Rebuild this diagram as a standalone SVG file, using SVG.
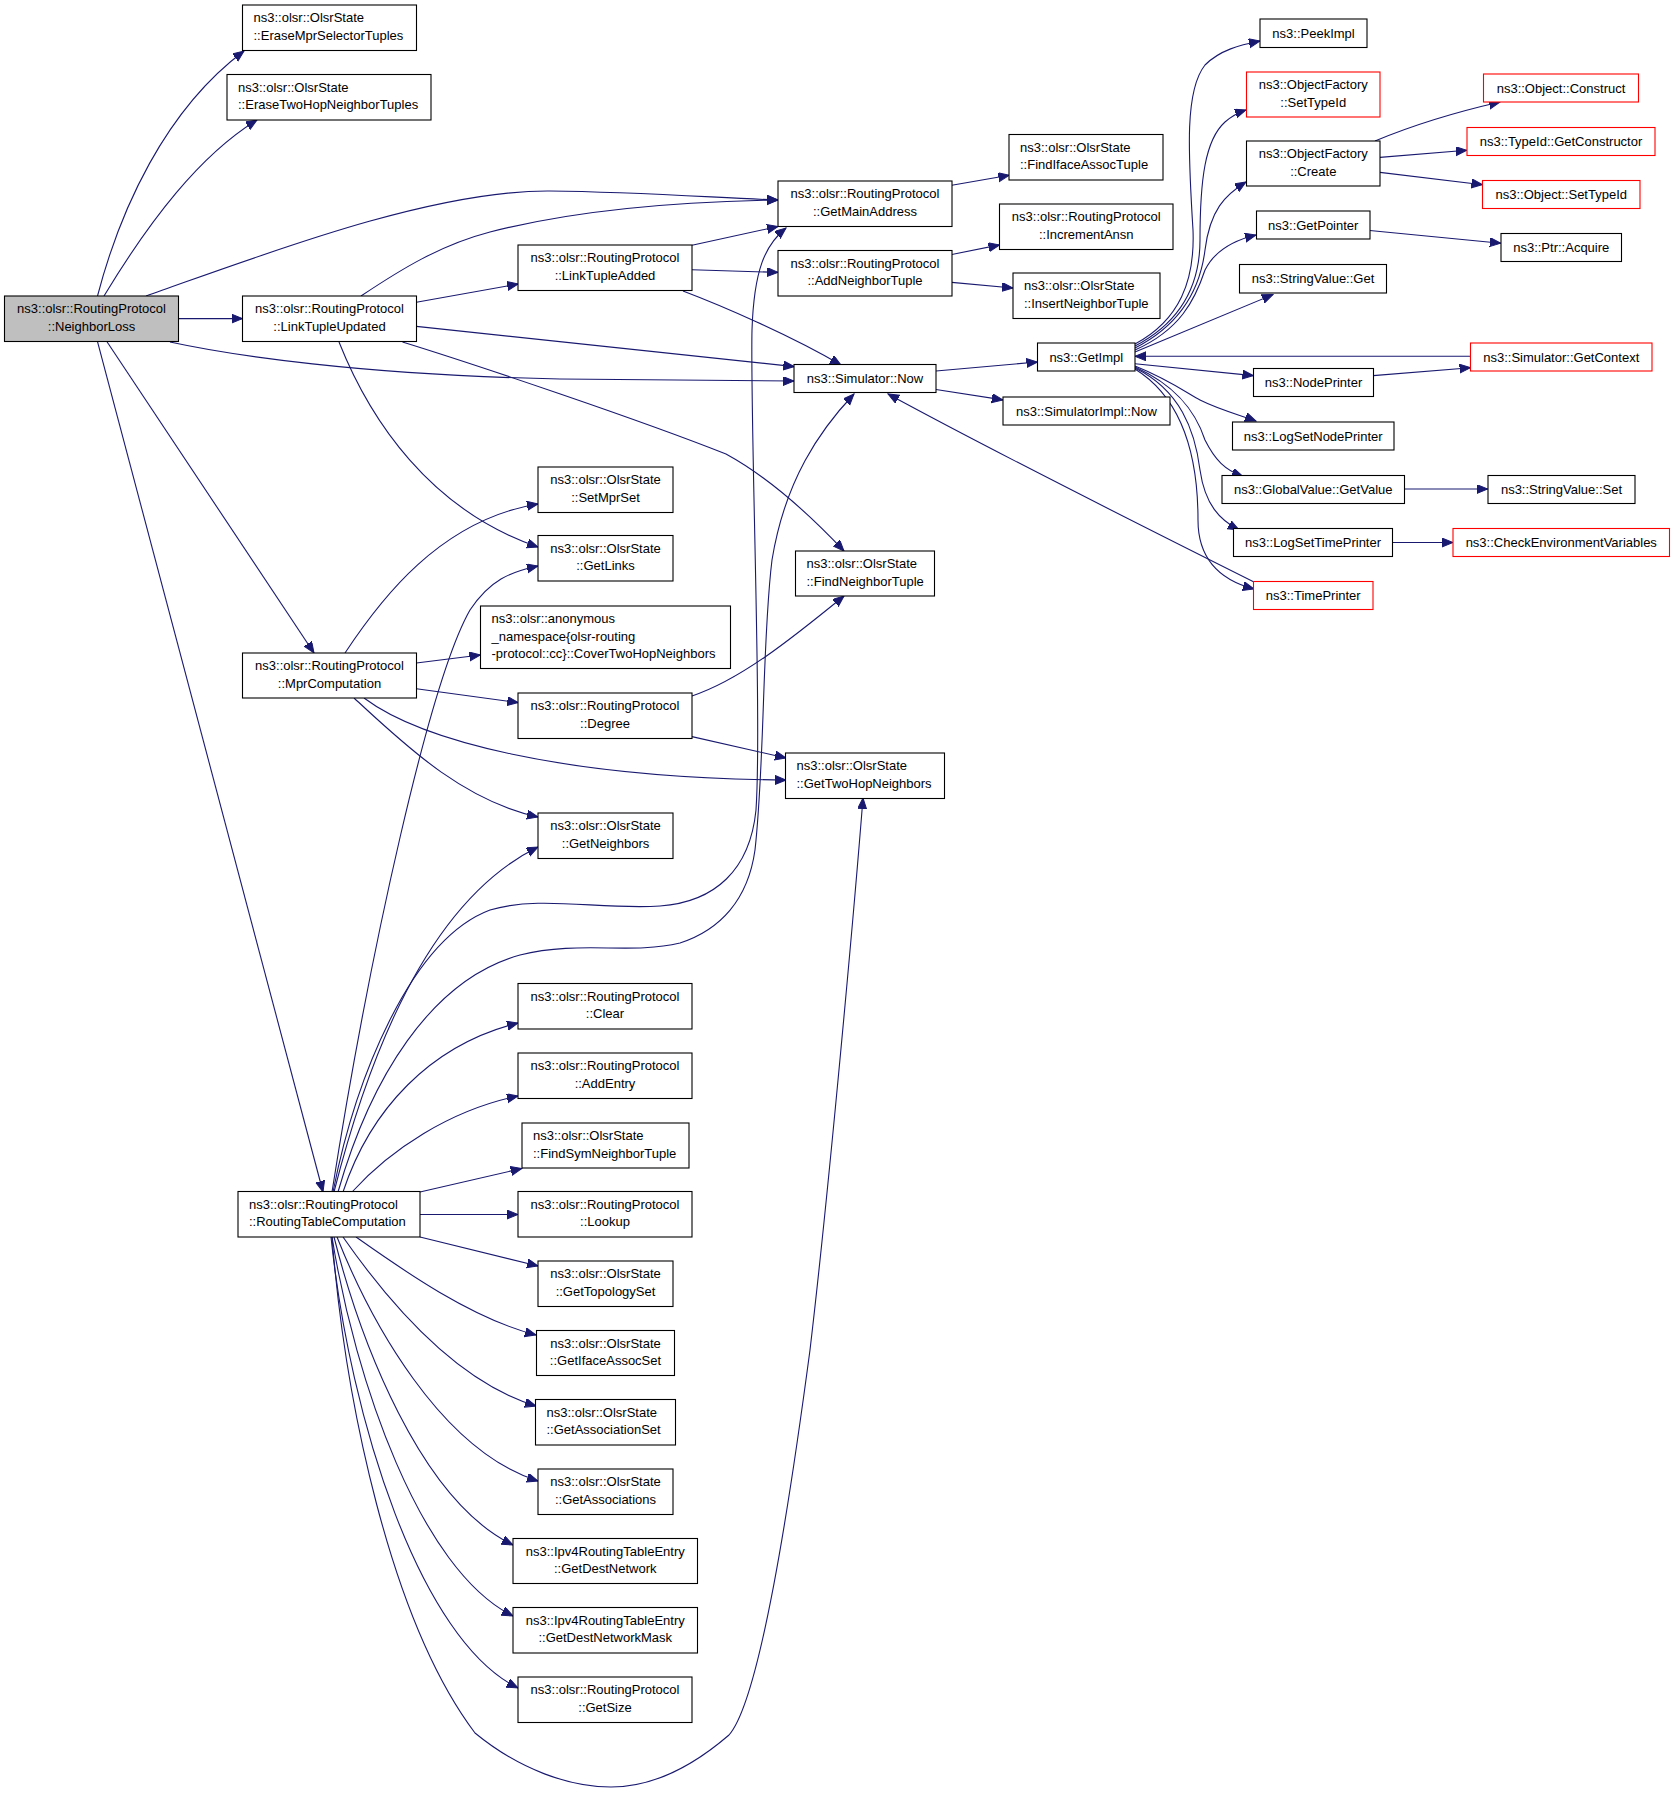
<svg xmlns="http://www.w3.org/2000/svg" width="1675" height="1793" viewBox="0 0 1675 1793">
<style>
.n rect{fill:#fff;stroke:#000;stroke-width:1.1}
.n.r rect{stroke:#f00}
.n.g rect{fill:#bfbfbf}
text{font-family:"Liberation Sans",Arial,Helvetica,sans-serif;font-size:13px;fill:#000}
.c{text-anchor:middle}
.e path{fill:none;stroke:#191970;stroke-width:1.1;marker-end:url(#a)}
</style>
<defs>
<marker id="a" markerUnits="userSpaceOnUse" markerWidth="12" markerHeight="10" refX="11" refY="4.5" orient="auto">
<path d="M0,0 L11,4.5 L0,9 z" fill="#191970" stroke="#191970" stroke-width="1"/>
</marker>
</defs>
<rect width="1675" height="1793" fill="#fff"/>
<g class="e" id="edges">
<path d="M97.5,296 C120,210 165,110 244,51"/>
<path d="M104,296 C150,220 200,155 257,120"/>
<path d="M146,296 C260,256 430,190 550,191 C640,192 720,198 778,200"/>
<path d="M361,296 C400,270 440,245 490,232 C560,214 650,202 778,200"/>
<path d="M178.6,318.6 L242.5,318.6"/>
<path d="M170,342 C230,355 360,375 560,379 C650,380.5 730,381 794,381"/>
<path d="M416.4,326.4 L794.3,366.6"/>
<path d="M402.5,342 C480,366 640,420 726,454 C770,478 810,515 844,551"/>
<path d="M339,342 C370,420 430,510 538,547"/>
<path d="M416.4,302.3 L518.2,284"/>
<path d="M692,245.3 L778,226.5"/>
<path d="M692,269.8 L778,272.4"/>
<path d="M683,291 C720,305 790,335 841,365"/>
<path d="M951.8,185.2 L1009.3,175.3"/>
<path d="M951.8,254.5 L999.6,244.9"/>
<path d="M951.8,282.4 L1012.9,288"/>
<path d="M936,371 L1037.5,362"/>
<path d="M936,389.5 L1002.9,399.9"/>
<path d="M1254,582 C1180,545 1000,455 888,394"/>
<path d="M332,1192 C370,950 430,680 470,610 C490,580 510,572 538,566"/>
<path d="M334,1192 C370,1050 430,900 538,847"/>
<path d="M333,1192 C355,1080 410,940 490,910 C540,895 600,910 660,906 C715,902 750,870 756,810 C762,720 750,420 752,330 C754,270 765,245 786,228"/>
<path d="M338,1192 C370,1080 430,980 520,955 C580,940 630,955 680,943 C720,930 748,900 755,850 C765,760 762,640 772,560 C785,480 820,430 854,394"/>
<path d="M332,1237 C345,1400 390,1620 475,1733 C520,1770 570,1787 611,1787 C660,1787 700,1760 729,1735 C760,1700 790,1500 810,1350 C830,1180 855,900 863,798"/>
<path d="M343,1192 C370,1110 430,1045 518,1023"/>
<path d="M352,1192 C390,1150 450,1110 518,1096"/>
<path d="M420,1192 L521.8,1168.5"/>
<path d="M420,1214.5 L518,1214.5"/>
<path d="M420,1237 L538,1266"/>
<path d="M356,1237 C400,1268 470,1318 536,1335"/>
<path d="M343,1237 C380,1290 450,1380 536,1406"/>
<path d="M337,1237 C370,1320 440,1450 538,1481"/>
<path d="M334,1237 C360,1340 420,1500 513,1545"/>
<path d="M332,1237 C355,1380 420,1570 513,1616"/>
<path d="M331,1237 C350,1420 420,1640 518,1688"/>
<path d="M107,341.7 L314,653"/>
<path d="M97.5,341.7 L323,1192"/>
<path d="M345,653 C380,600 440,520 538,504"/>
<path d="M416.4,663 L480.4,655"/>
<path d="M416.4,688.7 L518.2,702.6"/>
<path d="M364,698 C420,740 560,778 786,780"/>
<path d="M354,698 C400,740 460,800 538,817"/>
<path d="M692,696 C740,680 790,640 844,596"/>
<path d="M692,736.6 L786,758"/>
<path d="M1135,344 C1180,320 1195,280 1193,230 C1188,150 1185,90 1205,65 C1220,50 1240,45 1260,41"/>
<path d="M1135,346 C1185,320 1200,280 1200,240 C1200,180 1205,140 1225,122 C1233,115 1240,112 1246,110"/>
<path d="M1135,348 C1180,325 1200,290 1205,250 C1210,210 1225,195 1246,182"/>
<path d="M1135,350 C1180,330 1195,300 1205,270 C1215,250 1235,240 1256,235"/>
<path d="M1135,352 L1273,294.6"/>
<path d="M1470.6,356.3 L1135,356.3"/>
<path d="M1135,363.8 L1253.4,375.6"/>
<path d="M1373.2,375.6 L1470.6,367.7"/>
<path d="M1135,366 C1170,380 1190,395 1200,400 C1220,410 1240,415 1256,421"/>
<path d="M1135,367 C1175,385 1195,410 1205,440 C1215,460 1225,470 1243,476.5"/>
<path d="M1135,368 C1180,390 1195,430 1200,470 C1205,505 1220,520 1239,530"/>
<path d="M1135,369 C1185,400 1198,460 1198,520 C1198,560 1220,580 1254,589"/>
<path d="M1375,141 Q1430,118 1500,102"/>
<path d="M1380,157.4 L1466.8,150.3"/>
<path d="M1380,172.4 L1482.5,184.7"/>
<path d="M1369.8,230.5 L1500.8,243.2"/>
<path d="M1404.5,489 L1487.7,489"/>
<path d="M1392.6,542.5 L1453,542.5"/>
</g>
<g class="n g" id="NeighborLoss"><rect x="4.5" y="296" width="174" height="45.5"/><text class="c" x="91.5" y="313">ns3::olsr::RoutingProtocol</text><text class="c" x="91.5" y="330.5">::NeighborLoss</text></g>
<g class="n" id="EraseMprSelectorTuples"><rect x="242.5" y="5" width="174" height="45.5"/><text x="253.5" y="22">ns3::olsr::OlsrState</text><text x="253.5" y="39.5">::EraseMprSelectorTuples</text></g>
<g class="n" id="EraseTwoHopNeighborTuples"><rect x="227" y="74.5" width="204" height="45.5"/><text x="238" y="91.5">ns3::olsr::OlsrState</text><text x="238" y="109">::EraseTwoHopNeighborTuples</text></g>
<g class="n" id="LinkTupleUpdated"><rect x="242.5" y="296" width="174" height="45.5"/><text class="c" x="329.5" y="313">ns3::olsr::RoutingProtocol</text><text class="c" x="329.5" y="330.5">::LinkTupleUpdated</text></g>
<g class="n" id="LinkTupleAdded"><rect x="518" y="245" width="174" height="45.5"/><text class="c" x="605" y="262">ns3::olsr::RoutingProtocol</text><text class="c" x="605" y="279.5">::LinkTupleAdded</text></g>
<g class="n" id="GetMainAddress"><rect x="778" y="181" width="174" height="45.5"/><text class="c" x="865" y="198">ns3::olsr::RoutingProtocol</text><text class="c" x="865" y="215.5">::GetMainAddress</text></g>
<g class="n" id="AddNeighborTuple"><rect x="778" y="250.5" width="174" height="45.5"/><text class="c" x="865" y="267.5">ns3::olsr::RoutingProtocol</text><text class="c" x="865" y="285">::AddNeighborTuple</text></g>
<g class="n" id="FindIfaceAssocTuple"><rect x="1009" y="134.5" width="154" height="45.5"/><text x="1020" y="151.5">ns3::olsr::OlsrState</text><text x="1020" y="169">::FindIfaceAssocTuple</text></g>
<g class="n" id="IncrementAnsn"><rect x="999.5" y="204" width="173.5" height="45.5"/><text class="c" x="1086.25" y="221">ns3::olsr::RoutingProtocol</text><text class="c" x="1086.25" y="238.5">::IncrementAnsn</text></g>
<g class="n" id="InsertNeighborTuple"><rect x="1013" y="273" width="147" height="45.5"/><text x="1024" y="290">ns3::olsr::OlsrState</text><text x="1024" y="307.5">::InsertNeighborTuple</text></g>
<g class="n" id="SimulatorNow"><rect x="794" y="364.5" width="142" height="28"/><text class="c" x="865" y="383">ns3::Simulator::Now</text></g>
<g class="n" id="SimulatorImplNow"><rect x="1003" y="397" width="167" height="28"/><text class="c" x="1086.5" y="415.5">ns3::SimulatorImpl::Now</text></g>
<g class="n" id="GetImpl"><rect x="1037.5" y="343" width="97.5" height="28"/><text class="c" x="1086.25" y="361.5">ns3::GetImpl</text></g>
<g class="n" id="PeekImpl"><rect x="1260" y="19" width="107" height="28.5"/><text class="c" x="1313.5" y="37.5">ns3::PeekImpl</text></g>
<g class="n r" id="ObjectFactorySetTypeId"><rect x="1246.5" y="72" width="133.5" height="45"/><text class="c" x="1313.25" y="89">ns3::ObjectFactory</text><text class="c" x="1313.25" y="106.5">::SetTypeId</text></g>
<g class="n" id="ObjectFactoryCreate"><rect x="1246.5" y="141" width="133.5" height="45"/><text class="c" x="1313.25" y="158">ns3::ObjectFactory</text><text class="c" x="1313.25" y="175.5">::Create</text></g>
<g class="n r" id="ObjectConstruct"><rect x="1483.5" y="74" width="155" height="28"/><text class="c" x="1561" y="92.5">ns3::Object::Construct</text></g>
<g class="n r" id="TypeIdGetConstructor"><rect x="1467" y="127.5" width="188" height="28"/><text class="c" x="1561" y="146">ns3::TypeId::GetConstructor</text></g>
<g class="n r" id="ObjectSetTypeId"><rect x="1482.5" y="180.5" width="157.5" height="28"/><text class="c" x="1561.25" y="199">ns3::Object::SetTypeId</text></g>
<g class="n" id="GetPointer"><rect x="1256.5" y="211" width="113.5" height="28"/><text class="c" x="1313.25" y="229.5">ns3::GetPointer</text></g>
<g class="n" id="PtrAcquire"><rect x="1501" y="233.5" width="120.5" height="28"/><text class="c" x="1561.25" y="252">ns3::Ptr::Acquire</text></g>
<g class="n" id="StringValueGet"><rect x="1239.5" y="264.5" width="147" height="28.5"/><text class="c" x="1313" y="283">ns3::StringValue::Get</text></g>
<g class="n r" id="SimulatorGetContext"><rect x="1470.5" y="343" width="181.5" height="28"/><text class="c" x="1561.25" y="361.5">ns3::Simulator::GetContext</text></g>
<g class="n" id="NodePrinter"><rect x="1253.5" y="368.5" width="120" height="28"/><text class="c" x="1313.5" y="387">ns3::NodePrinter</text></g>
<g class="n" id="LogSetNodePrinter"><rect x="1232.5" y="422" width="161.5" height="28"/><text class="c" x="1313.25" y="440.5">ns3::LogSetNodePrinter</text></g>
<g class="n" id="GlobalValueGetValue"><rect x="1222" y="475.5" width="182.5" height="28"/><text class="c" x="1313.25" y="494">ns3::GlobalValue::GetValue</text></g>
<g class="n" id="StringValueSet"><rect x="1488" y="475.5" width="147" height="28"/><text class="c" x="1561.5" y="494">ns3::StringValue::Set</text></g>
<g class="n" id="LogSetTimePrinter"><rect x="1233.5" y="528.5" width="159" height="28"/><text class="c" x="1313" y="547">ns3::LogSetTimePrinter</text></g>
<g class="n r" id="CheckEnvironmentVariables"><rect x="1453" y="528.5" width="216.5" height="28"/><text class="c" x="1561.25" y="547">ns3::CheckEnvironmentVariables</text></g>
<g class="n r" id="TimePrinter"><rect x="1253.5" y="581.5" width="119.5" height="28"/><text class="c" x="1313.25" y="600">ns3::TimePrinter</text></g>
<g class="n" id="SetMprSet"><rect x="538" y="467" width="135" height="45.5"/><text class="c" x="605.5" y="484">ns3::olsr::OlsrState</text><text class="c" x="605.5" y="501.5">::SetMprSet</text></g>
<g class="n" id="GetLinks"><rect x="538" y="535.5" width="135" height="45.5"/><text class="c" x="605.5" y="552.5">ns3::olsr::OlsrState</text><text class="c" x="605.5" y="570">::GetLinks</text></g>
<g class="n" id="FindNeighborTuple"><rect x="795.5" y="551" width="139" height="45"/><text x="806.5" y="568">ns3::olsr::OlsrState</text><text x="806.5" y="585.5">::FindNeighborTuple</text></g>
<g class="n" id="CoverTwoHopNeighbors"><rect x="480.5" y="606" width="250" height="62.5"/><text x="491.5" y="623">ns3::olsr::anonymous</text><text x="491.5" y="640.5">_namespace{olsr-routing</text><text x="491.5" y="658">-protocol::cc}::CoverTwoHopNeighbors</text></g>
<g class="n" id="MprComputation"><rect x="242.5" y="653" width="174" height="45"/><text class="c" x="329.5" y="670">ns3::olsr::RoutingProtocol</text><text class="c" x="329.5" y="687.5">::MprComputation</text></g>
<g class="n" id="Degree"><rect x="518" y="693" width="174" height="45.5"/><text class="c" x="605" y="710">ns3::olsr::RoutingProtocol</text><text class="c" x="605" y="727.5">::Degree</text></g>
<g class="n" id="GetTwoHopNeighbors"><rect x="785.5" y="753" width="159" height="45.5"/><text x="796.5" y="770">ns3::olsr::OlsrState</text><text x="796.5" y="787.5">::GetTwoHopNeighbors</text></g>
<g class="n" id="GetNeighbors"><rect x="538" y="813" width="135" height="45.5"/><text class="c" x="605.5" y="830">ns3::olsr::OlsrState</text><text class="c" x="605.5" y="847.5">::GetNeighbors</text></g>
<g class="n" id="Clear"><rect x="518" y="983.5" width="174" height="45.5"/><text class="c" x="605" y="1000.5">ns3::olsr::RoutingProtocol</text><text class="c" x="605" y="1018">::Clear</text></g>
<g class="n" id="AddEntry"><rect x="518" y="1053" width="174" height="45.5"/><text class="c" x="605" y="1070">ns3::olsr::RoutingProtocol</text><text class="c" x="605" y="1087.5">::AddEntry</text></g>
<g class="n" id="FindSymNeighborTuple"><rect x="522" y="1123" width="167" height="45"/><text x="533" y="1140">ns3::olsr::OlsrState</text><text x="533" y="1157.5">::FindSymNeighborTuple</text></g>
<g class="n" id="RoutingTableComputation"><rect x="238" y="1191.5" width="182" height="45.5"/><text x="249" y="1208.5">ns3::olsr::RoutingProtocol</text><text x="249" y="1226">::RoutingTableComputation</text></g>
<g class="n" id="Lookup"><rect x="518" y="1191.5" width="174" height="45.5"/><text class="c" x="605" y="1208.5">ns3::olsr::RoutingProtocol</text><text class="c" x="605" y="1226">::Lookup</text></g>
<g class="n" id="GetTopologySet"><rect x="538" y="1261" width="135" height="45.5"/><text class="c" x="605.5" y="1278">ns3::olsr::OlsrState</text><text class="c" x="605.5" y="1295.5">::GetTopologySet</text></g>
<g class="n" id="GetIfaceAssocSet"><rect x="536.5" y="1330.5" width="138" height="45"/><text class="c" x="605.5" y="1347.5">ns3::olsr::OlsrState</text><text class="c" x="605.5" y="1365">::GetIfaceAssocSet</text></g>
<g class="n" id="GetAssociationSet"><rect x="535.5" y="1399.5" width="140" height="45.5"/><text x="546.5" y="1416.5">ns3::olsr::OlsrState</text><text x="546.5" y="1434">::GetAssociationSet</text></g>
<g class="n" id="GetAssociations"><rect x="538" y="1469" width="135" height="45.5"/><text class="c" x="605.5" y="1486">ns3::olsr::OlsrState</text><text class="c" x="605.5" y="1503.5">::GetAssociations</text></g>
<g class="n" id="GetDestNetwork"><rect x="513" y="1538.5" width="184.5" height="45"/><text class="c" x="605.25" y="1555.5">ns3::Ipv4RoutingTableEntry</text><text class="c" x="605.25" y="1573">::GetDestNetwork</text></g>
<g class="n" id="GetDestNetworkMask"><rect x="513" y="1607.5" width="184.5" height="45.5"/><text class="c" x="605.25" y="1624.5">ns3::Ipv4RoutingTableEntry</text><text class="c" x="605.25" y="1642">::GetDestNetworkMask</text></g>
<g class="n" id="GetSize"><rect x="518" y="1677" width="174" height="45.5"/><text class="c" x="605" y="1694">ns3::olsr::RoutingProtocol</text><text class="c" x="605" y="1711.5">::GetSize</text></g>
</svg>
